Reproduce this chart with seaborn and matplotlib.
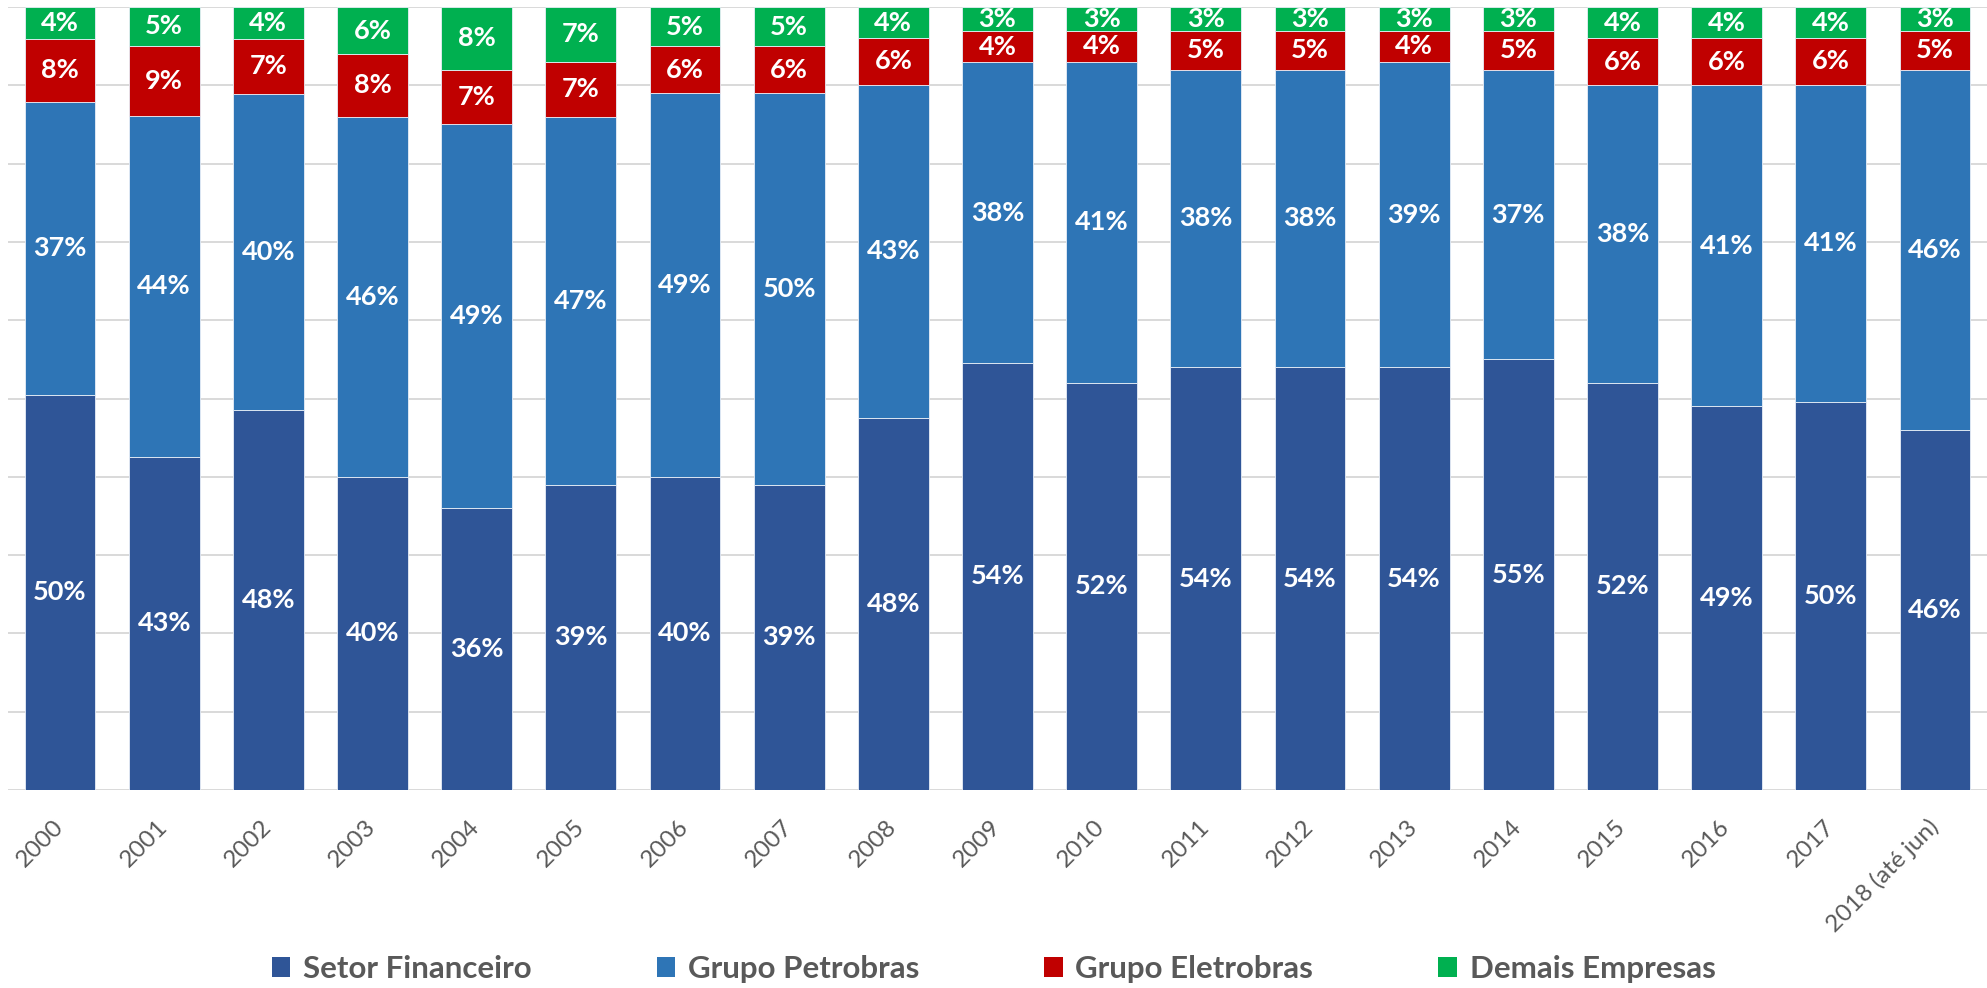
import numpy as np
import pandas as pd
import seaborn as sns
from matplotlib import pyplot as plt
from matplotlib.patches import Patch

# percentuais exibidos no grafico (rotulos arredondados)
anos = ["2000", "2001", "2002", "2003", "2004", "2005", "2006", "2007", "2008", "2009",
        "2010", "2011", "2012", "2013", "2014", "2015", "2016", "2017", "2018 (até jun)"]
setor_financeiro = [50, 43, 48, 40, 36, 39, 40, 39, 48, 54, 52, 54, 54, 54, 55, 52, 49, 50, 46]
grupo_petrobras = [37, 44, 40, 46, 49, 47, 49, 50, 43, 38, 41, 38, 38, 39, 37, 38, 41, 41, 46]
grupo_eletrobras = [8, 9, 7, 8, 7, 7, 6, 6, 6, 4, 4, 5, 5, 4, 5, 6, 6, 6, 5]
demais_empresas = [4, 5, 4, 6, 8, 7, 5, 5, 4, 3, 3, 3, 3, 3, 3, 4, 4, 4, 3]

series = ["Setor Financeiro", "Grupo Petrobras", "Grupo Eletrobras", "Demais Empresas"]
cores = ["#2F5597", "#2E75B6", "#C00000", "#00B050"]

df = pd.DataFrame({
    "Setor Financeiro": setor_financeiro,
    "Grupo Petrobras": grupo_petrobras,
    "Grupo Eletrobras": grupo_eletrobras,
    "Demais Empresas": demais_empresas,
}, index=anos)
# barras 100% empilhadas
shares = df.div(df.sum(axis=1), axis=0) * 100

sns.set_style("white")
plt.rcParams["font.family"] = ["Lato", "DejaVu Sans"]

fig = plt.figure(figsize=(19.87, 9.88), dpi=100)
ax = fig.add_axes([0.004, 0.2004, 0.996, 0.7925])
ax.set_axisbelow(True)

base = np.zeros(len(anos))
for s, c in zip(series, cores):
    sns.barplot(x=anos, y=shares[s].values, bottom=base, color=c, width=0.68,
                saturation=1, errorbar=None, edgecolor="#E8EEF7", linewidth=0.6, ax=ax)
    ax.bar_label(ax.containers[-1], labels=[f"{v}%" for v in df[s]], label_type="center",
                 color="white", fontsize=19.5, fontweight="bold")
    base = base + shares[s].values

ax.set_xlim(-0.5, len(anos) - 0.5)
ax.set_ylim(0, 100)
ax.set_yticks(range(0, 101, 10))
ax.set_yticklabels([])
ax.yaxis.grid(True, color="#D9D9D9", linewidth=1.4)
ax.set_xlabel("")
ax.set_ylabel("")
for sp in ax.spines.values():
    sp.set_visible(False)

ax.tick_params(axis="y", length=0)
ax.tick_params(axis="x", length=0, pad=24, labelsize=17.5, labelcolor="#595959")
for lab in ax.get_xticklabels():
    lab.set_rotation(45)
    lab.set_ha("right")
    lab.set_va("center")
    lab.set_rotation_mode("anchor")

handles = [Patch(facecolor=c, edgecolor="none") for c in cores]
fig.legend(handles, series, loc="center", bbox_to_anchor=(0.5, 0.019), ncol=4, frameon=False,
           prop={"size": 22.5, "weight": "bold"}, labelcolor="#595959",
           handlelength=0.6, handleheight=0.6, handletextpad=0.4, columnspacing=4.0)

fig.savefig("out.png", dpi=100)
